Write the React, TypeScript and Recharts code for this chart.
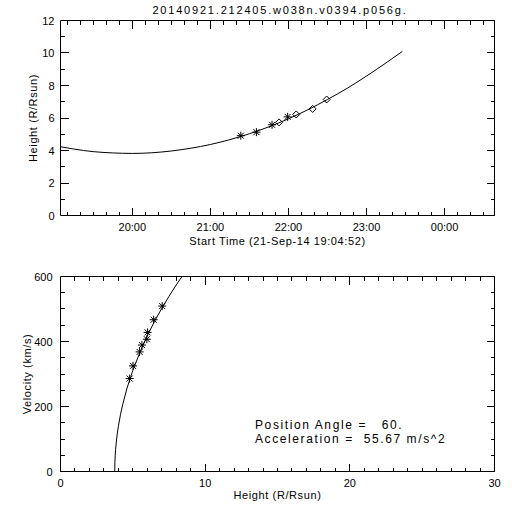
import { ComposedChart, Line, Scatter, XAxis, YAxis } from "recharts";

const chartTitle = "20140921.212405.w038n.v0394.p056g.";
const timeAxisTitle = "Start Time (21-Sep-14 19:04:52)";
const heightAxisTitle = "Height (R/Rsun)";
const velocityAxisTitle = "Velocity (km/s)";
const notes = ["Position Angle =   60.", "Acceleration =  55.67 m/s^2"];

// height-time fit, hours of 21-Sep (24 = 00:00 next day)
const fitTime = [19.08, 19.25, 19.5, 19.75, 20.0, 20.25, 20.5, 20.75, 21.0, 21.25, 21.5, 21.75, 22.0, 22.25, 22.5, 22.75, 23.0, 23.25, 23.46];
const fitHeight = [4.23, 4.09, 3.93, 3.85, 3.82, 3.86, 3.97, 4.14, 4.37, 4.67, 5.03, 5.46, 5.95, 6.51, 7.14, 7.82, 8.58, 9.39, 10.1];

const starTime = [21.39, 21.59, 21.79, 21.99];
const starHeight = [4.91, 5.13, 5.58, 6.07];
const diamondTime = [21.88, 22.1, 22.31, 22.49];
const diamondHeight = [5.73, 6.22, 6.56, 7.14];

// velocity vs height
const velFitHeight = [3.75, 3.76, 3.78, 3.81, 3.85, 3.92, 4.0, 4.15, 4.3, 4.6, 5.0, 5.5, 6.0, 6.5, 7.0, 7.5, 8.0, 8.4];
const velFitSpeed = [0, 28, 48, 68, 88, 115, 139, 176, 206, 257, 311, 368, 418, 462, 502, 539, 574, 600];
const velStarHeight = [4.78, 5.01, 5.47, 5.63, 5.97, 6.02, 6.44, 7.03];
const velStarSpeed = [286, 325, 368, 389, 407, 428, 467, 509];

// axes
const timeDomain = [19.081, 24.64];
const timeMinutes: number[] = [];
for (let m = 1150; m <= 1470; m += 10) timeMinutes.push(m);
const timeTicks = timeMinutes.map((m) => m / 60);
const heightTicks = [0, 1, 2, 3, 4, 5, 6, 7, 8, 9, 10, 11, 12];
const rTicks: number[] = [];
for (let r = 0; r <= 30; r++) rTicks.push(r);
const speedTicks = [0, 50, 100, 150, 200, 250, 300, 350, 400, 450, 500, 550, 600];

const fitData = fitTime.map((t, i) => ({ t, h: fitHeight[i] }));
const starData = starTime.map((t, i) => ({ t, h: starHeight[i] }));
const diamondData = diamondTime.map((t, i) => ({ t, h: diamondHeight[i] }));
const velFitData = velFitHeight.map((h, i) => ({ h, v: velFitSpeed[i] }));
const velStarData = velStarHeight.map((h, i) => ({ h, v: velStarSpeed[i] }));

const FONT = "'Liberation Sans', Arial, sans-serif";

const near = (a: number, b: number) => Math.abs(a - b) < 1e-6;
const isWholeHour = (v: number) => near(v, Math.round(v));
const hourLabel = (v: number) => `${String(Math.round(v) % 24).padStart(2, "0")}:00`;

// inward tick marks on all four sides of the box: position + pixel direction
function boxTicks(
  xKey: string,
  yKey: string,
  xDom: number[],
  yDom: number[],
  xTicks: number[],
  yTicks: number[],
  xMajor: (v: number) => boolean,
  yMajor: (v: number) => boolean
) {
  const out: Record<string, number>[] = [];
  xTicks.forEach((t) => {
    const len = xMajor(t) ? 8 : 4;
    out.push({ [xKey]: t, [yKey]: yDom[0], dx: 0, dy: -len });
    out.push({ [xKey]: t, [yKey]: yDom[1], dx: 0, dy: len });
  });
  yTicks.forEach((v) => {
    const len = yMajor(v) ? 8 : 4;
    out.push({ [xKey]: xDom[0], [yKey]: v, dx: len, dy: 0 });
    out.push({ [xKey]: xDom[1], [yKey]: v, dx: -len, dy: 0 });
  });
  return out;
}

const snap = (v: number) => Math.floor(v) + 0.5;

function TickMark(props: any) {
  const { cx, cy, payload } = props;
  const x = payload.dx === 0 ? snap(cx) : cx;
  const y = payload.dy === 0 ? snap(cy) : cy;
  return (
    <line
      x1={x}
      y1={y}
      x2={x + payload.dx}
      y2={y + payload.dy}
      stroke="#000"
      strokeWidth={1.2}
      shapeRendering="crispEdges"
    />
  );
}

function tickText(side: "bottom" | "left", isMajor: (v: number) => boolean, fmt: (v: number) => string, gap = 6) {
  return (p: any) => {
    const v = p.payload.value;
    if (!isMajor(v)) return <g />;
    if (side === "bottom") {
      return (
        <text x={p.x} y={p.y + 15} textAnchor="middle" fontSize={11} fontFamily={FONT} fill="#000">
          {fmt(v)}
        </text>
      );
    }
    return (
      <text x={p.x - gap} y={p.y + 4} textAnchor="end" fontSize={11} fontFamily={FONT} fill="#000">
        {fmt(v)}
      </text>
    );
  };
}

function Star(props: any) {
  const { cx, cy } = props;
  const r = 4;
  const d = 3;
  return (
    <g stroke="#000" strokeWidth={1}>
      <line x1={cx - r} y1={cy} x2={cx + r} y2={cy} />
      <line x1={cx} y1={cy - r} x2={cx} y2={cy + r} />
      <line x1={cx - d} y1={cy - d} x2={cx + d} y2={cy + d} />
      <line x1={cx - d} y1={cy + d} x2={cx + d} y2={cy - d} />
    </g>
  );
}

function Diamond(props: any) {
  const { cx, cy } = props;
  const r = 3.5;
  return (
    <path
      d={`M${cx - r},${cy}L${cx},${cy - r}L${cx + r},${cy}L${cx},${cy + r}Z`}
      fill="none"
      stroke="#000"
      strokeWidth={1}
    />
  );
}

const axisLine = { stroke: "#000", strokeWidth: 1 };
const labelStyle = { textAnchor: "middle" as const, fontFamily: FONT, fontSize: 11, fill: "#000", letterSpacing: 0.6 };

function HeightTimePanel() {
  const marks = boxTicks("t", "h", timeDomain, [0, 12], timeTicks, heightTicks, isWholeHour, (v) => v % 2 === 0);
  return (
    <ComposedChart width={512} height={256} data={fitData} margin={{ top: 0, right: 0, bottom: 0, left: 0 }}>
      <XAxis
        dataKey="t"
        type="number"
        domain={timeDomain}
        ticks={timeTicks}
        interval={0}
        height={40.5}
        tickSize={0}
        tickMargin={0}
        tickLine={false}
        axisLine={axisLine}
        tick={tickText("bottom", isWholeHour, hourLabel)}
        label={{ value: timeAxisTitle, position: "insideBottom", offset: 11, style: labelStyle }}
      />
      <XAxis xAxisId="top" orientation="top" type="number" domain={timeDomain} height={20.5} tick={false} tickLine={false} axisLine={axisLine} />
      <YAxis
        dataKey="h"
        type="number"
        domain={[0, 12]}
        ticks={heightTicks}
        interval={0}
        width={60.5}
        tickSize={0}
        tickMargin={0}
        tickLine={false}
        axisLine={axisLine}
        tick={tickText("left", (v) => v % 2 === 0, (v) => String(v), 6)}
        label={{ value: heightAxisTitle, angle: -90, position: "insideLeft", offset: 33, style: labelStyle }}
      />
      <YAxis yAxisId="right" orientation="right" type="number" domain={[0, 12]} width={17.5} tick={false} tickLine={false} axisLine={axisLine} />
      <Scatter data={marks} dataKey="h" shape={(p: any) => <TickMark {...p} />} isAnimationActive={false} />
      <Line dataKey="h" type="monotone" dot={false} stroke="#000" strokeWidth={1} isAnimationActive={false} />
      <Scatter data={starData} dataKey="h" shape={(p: any) => <Star {...p} />} isAnimationActive={false} />
      <Scatter data={diamondData} dataKey="h" shape={(p: any) => <Diamond {...p} />} isAnimationActive={false} />
    </ComposedChart>
  );
}

function VelocityPanel() {
  const marks = boxTicks("h", "v", [0, 30], [0, 600], rTicks, speedTicks, (v) => v % 10 === 0, (v) => v % 200 === 0);
  return (
    <ComposedChart width={512} height={256} data={velFitData} margin={{ top: 0, right: 0, bottom: 0, left: 0 }}>
      <XAxis
        dataKey="h"
        type="number"
        domain={[0, 30]}
        ticks={rTicks}
        interval={0}
        height={40.5}
        tickSize={0}
        tickMargin={0}
        tickLine={false}
        axisLine={axisLine}
        tick={tickText("bottom", (v) => v % 10 === 0, (v) => String(v))}
        label={{ value: heightAxisTitle, position: "insideBottom", offset: 13.5, style: labelStyle }}
      />
      <XAxis xAxisId="top" orientation="top" type="number" domain={[0, 30]} height={20.5} tick={false} tickLine={false} axisLine={axisLine} />
      <YAxis
        dataKey="v"
        type="number"
        domain={[0, 600]}
        ticks={speedTicks}
        interval={0}
        width={60.5}
        tickSize={0}
        tickMargin={0}
        tickLine={false}
        axisLine={axisLine}
        tick={tickText("left", (v) => v % 200 === 0, (v) => String(v), 8)}
        label={{ value: velocityAxisTitle, angle: -90, position: "insideLeft", offset: 27, style: labelStyle }}
      />
      <YAxis yAxisId="right" orientation="right" type="number" domain={[0, 600]} width={17.5} tick={false} tickLine={false} axisLine={axisLine} />
      <Scatter data={marks} dataKey="v" shape={(p: any) => <TickMark {...p} />} isAnimationActive={false} />
      <Line dataKey="v" type="linear" dot={false} stroke="#000" strokeWidth={1} isAnimationActive={false} />
      <Scatter data={velStarData} dataKey="v" shape={(p: any) => <Star {...p} />} isAnimationActive={false} />
    </ComposedChart>
  );
}

export default function App() {
  return (
    <div style={{ position: "absolute", left: 0, top: 0, width: 512, height: 512, background: "#fff" }}>
      <div style={{ position: "absolute", left: 0, top: 0 }}>
        <HeightTimePanel />
      </div>
      <div style={{ position: "absolute", left: 0, top: 256 }}>
        <VelocityPanel />
      </div>
      <svg width={512} height={512} style={{ position: "absolute", left: 0, top: 0, pointerEvents: "none" }}>
        <text x={280} y={14} textAnchor="middle" fontSize={11} fontFamily={FONT} letterSpacing={1.8} fill="#000">
          {chartTitle}
        </text>
        {notes.map((s, i) => (
          <text
            key={s}
            x={255}
            y={429 + i * 14}
            fontSize={12}
            fontFamily={FONT}
            letterSpacing={1.6}
            fill="#000"
            style={{ whiteSpace: "pre" }}
          >
            {s}
          </text>
        ))}
      </svg>
    </div>
  );
}
